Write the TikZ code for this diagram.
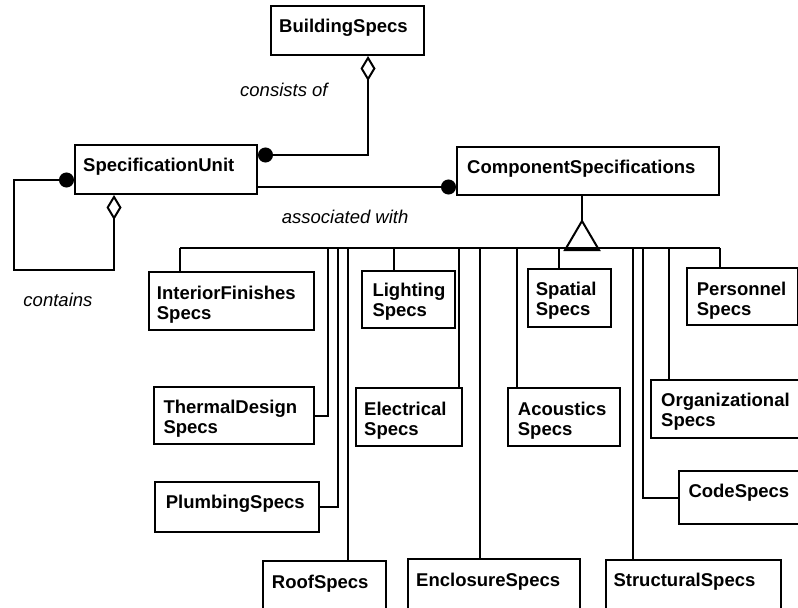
\documentclass[tikz,border=0pt]{standalone}
\usepackage{fontspec}
\setmainfont{Liberation Sans}
\usetikzlibrary{arrows.meta,calc}

% two stacked lines whose baseline is the first line
\newcommand\twoline[2]{\vtop{\hbox{#1}\hbox{#2}}}

\tikzset{
  wire/.style={line width=2bp, line join=miter},
  box/.style={wire, draw, rectangle, anchor=north west, inner sep=0pt, fill=white},
  clsname/.style={anchor=base west, inner sep=0pt, font=\fontsize{18.5bp}{20bp}\selectfont\bfseries},
  role/.style={anchor=base west, inner sep=0pt, font=\fontsize{18.5bp}{20bp}\selectfont\itshape},
  agg/.style={wire, {Diamond[open, length=25bp, width=15bp]}-{Circle[length=15bp]}},
  assoc/.style={wire, -{Circle[length=15bp]}}
}

\begin{document}
\begin{tikzpicture}[x=1bp, y=-1bp]
\path[use as bounding box, clip] (0,0) rectangle (798,608);
\fill[white] (0,0) rectangle (798,608);

% class boxes
\node[box, minimum width=153bp, minimum height=49bp] (BS) at (270,5) {};
\node[box, minimum width=182bp, minimum height=49bp] (SU) at (74,144) {};
\node[box, minimum width=262bp, minimum height=48bp] (CS) at (456,146) {};
\node[box, minimum width=165bp, minimum height=58bp] (IF) at (148,271) {};
\node[box, minimum width=160bp, minimum height=57bp] (TD) at (153,386) {};
\node[box, minimum width=164bp, minimum height=50bp] (PL) at (154,481) {};
\node[box, minimum width=123bp, minimum height=60bp] (RF) at (262,560) {};
\node[box, minimum width=93bp,  minimum height=57bp] (LT) at (361,270) {};
\node[box, minimum width=106bp, minimum height=58bp] (EL) at (355,387) {};
\node[box, minimum width=172bp, minimum height=60bp] (EN) at (407,558) {};
\node[box, minimum width=83bp,  minimum height=58bp] (SP) at (527,268) {};
\node[box, minimum width=112bp, minimum height=58bp] (AC) at (507,387) {};
\node[box, minimum width=175bp, minimum height=60bp] (ST) at (605,559) {};
\node[box, minimum width=111bp, minimum height=57bp] (PE) at (686,267) {};
\node[box, minimum width=160bp, minimum height=58bp] (OR) at (650,379) {};
\node[box, minimum width=130bp, minimum height=53bp] (CO) at (678,470) {};

% class names
\node[clsname] (tBS) at (279,33)    {BuildingSpecs};
\node[clsname] (tSU) at (83,172)    {SpecificationUnit};
\node[clsname] (tCS) at (467,173.3) {ComponentSpecifications};
\node[clsname] (tIF) at (156.7,299.3) {\twoline{InteriorFinishes}{Specs}};
\node[clsname] (tTD) at (163.3,413.3) {\twoline{ThermalDesign}{Specs}};
\node[clsname] (tPL) at (165.7,508)   {PlumbingSpecs};
\node[clsname] (tRF) at (271.7,588.3) {RoofSpecs};
\node[clsname] (tLT) at (372.3,296.7) {\twoline{Lighting}{Specs}};
\node[clsname] (tEL) at (364,415)     {\twoline{Electrical}{Specs}};
\node[clsname] (tEN) at (416,586.7)   {EnclosureSpecs};
\node[clsname] (tSP) at (535.7,295.7) {\twoline{Spatial}{Specs}};
\node[clsname] (tAC) at (517.7,415)   {\twoline{Acoustics}{Specs}};
\node[clsname] (tST) at (613.3,586.7) {StructuralSpecs};
\node[clsname] (tPE) at (696.7,295)   {\twoline{Personnel}{Specs}};
\node[clsname] (tOR) at (661,406.7)   {\twoline{Organizational}{Specs}};
\node[clsname] (tCO) at (688.3,497.3) {CodeSpecs};

% role labels
\node[role] (consists) at (240,96.7)    {consists of};
\node[role] (assocw)   at (281.7,223.3) {associated with};
\node[role] (contains) at (23.3,306.7)  {contains};

% BuildingSpecs aggregates SpecificationUnit
\draw[agg] ($(BS.south west)+(98,0)$) |- ($(SU.north east)+(0,11)$);

% SpecificationUnit contains SpecificationUnit
\draw[agg] ($(SU.south west)+(40,0)$) -- ++(0,75) -- ++(-100,0) |- ($(SU.south west)+(0,-15)$);

% SpecificationUnit associated with ComponentSpecifications
\coordinate (suR) at ($(SU.south east)+(0,-8)$);
\draw[assoc] (suR) -- (suR -| CS.west);

% generalisation of ComponentSpecifications
\coordinate (gen) at ($(CS.south west)+(126,0)$);
\coordinate (apex) at ($(gen)+(0,25)$);
\draw[wire] (gen) -- (apex);
\draw[wire] (apex) -- ++(-17,29) -- ++(34,0) -- cycle;

% bus junctions
\coordinate (bIF) at (180,248);
\coordinate (bTD) at (328,248);
\coordinate (bPL) at (337.5,248);
\coordinate (bRF) at (347.5,248);
\coordinate (bLT) at (394,248);
\coordinate (bEL) at (459,248);
\coordinate (bEN) at (479.5,248);
\coordinate (bAC) at (517,248);
\coordinate (bSP) at (559,248);
\coordinate (bST) at (632.5,248);
\coordinate (bCO) at (642.5,248);
\coordinate (bOR) at (669,248);
\coordinate (bPE) at (720,248);

\draw[wire] (bIF) -- (bPE);
\draw[wire] (bIF) -- (bIF |- IF.north);
\draw[wire] (TD.east) -| (bTD);
\draw[wire] (PL.east) -| (bPL);
\draw[wire] (bRF) -- (bRF |- RF.north);
\draw[wire] (bLT) -- (bLT |- LT.north);
\draw[wire] (bEL) -- (bEL |- EL.north);
\draw[wire] (bEN) -- (bEN |- EN.north);
\draw[wire] (bAC) -- (bAC |- AC.north);
\draw[wire] (bSP) -- (bSP |- SP.north);
\draw[wire] (bST) -- (bST |- ST.north);
\draw[wire] (CO.west) -| (bCO);
\draw[wire] (bOR) -- (bOR |- OR.north);
\draw[wire] (bPE) -- (bPE |- PE.north);
\end{tikzpicture}
\end{document}
